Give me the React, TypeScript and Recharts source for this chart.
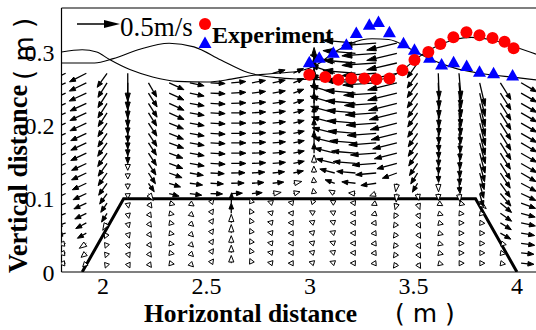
import React from 'react';
import { ComposedChart, XAxis, YAxis, Line, Scatter } from 'recharts';

const W = 536;
const H = 330;
const X_DOMAIN: [number, number] = [1.8, 4.092];
const Y_DOMAIN: [number, number] = [0, 0.36];
const X_LABEL_TICKS = [2, 2.5, 3, 3.5, 4];
const X_MINOR_TICKS = [2, 2.25, 2.5, 2.75, 3, 3.25, 3.5, 3.75, 4];
const Y_LABEL_TICKS = [0, 0.1, 0.2, 0.3];

// submerged trapezoidal breakwater outline
const BREAKWATER_X = [1.9, 2.1, 3.8, 4.0];
const BREAKWATER_Y = [0, 0.1, 0.1, 0];

// simulated free surface, instant A (blue)
const SURF_A_X = [1.8, 1.9, 1.97, 2.03, 2.13, 2.24, 2.36, 2.5, 2.62, 2.72, 2.84, 2.95, 3.03, 3.12, 3.2, 3.3, 3.38, 3.5, 3.6, 3.7, 3.82, 4.0, 4.092];
const SURF_A_Y = [0.3, 0.303, 0.3, 0.29, 0.276, 0.266, 0.26, 0.259, 0.263, 0.268, 0.271, 0.274, 0.282, 0.3, 0.312, 0.318, 0.317, 0.302, 0.288, 0.278, 0.271, 0.265, 0.262];
// simulated free surface, instant B (red)
const SURF_B_X = [1.8, 1.96, 2.05, 2.17, 2.32, 2.44, 2.57, 2.7, 2.84, 2.95, 3.1, 3.3, 3.38, 3.45, 3.52, 3.6, 3.7, 3.78, 3.87, 4.0, 4.092];
const SURF_B_Y = [0.285, 0.285, 0.291, 0.303, 0.312, 0.307, 0.289, 0.272, 0.265, 0.263, 0.262, 0.262, 0.265, 0.276, 0.292, 0.306, 0.317, 0.32, 0.317, 0.306, 0.297];

// experiment
const EXP_RED_X = [2.997, 3.074, 3.137, 3.2, 3.263, 3.321, 3.384, 3.447, 3.505, 3.572, 3.63, 3.693, 3.756, 3.819, 3.882, 3.94, 3.984];
const EXP_RED_Y = [0.269, 0.266, 0.262, 0.264, 0.264, 0.263, 0.264, 0.275, 0.289, 0.3, 0.311, 0.32, 0.327, 0.323, 0.319, 0.314, 0.305];
const EXP_BLUE_X = [2.997, 3.045, 3.113, 3.176, 3.224, 3.287, 3.331, 3.384, 3.452, 3.505, 3.578, 3.636, 3.694, 3.757, 3.819, 3.887, 3.979];
const EXP_BLUE_Y = [0.286, 0.292, 0.299, 0.31, 0.326, 0.337, 0.341, 0.327, 0.312, 0.303, 0.292, 0.283, 0.286, 0.281, 0.273, 0.271, 0.268];

// velocity field grid
const COL_X = [1.82, 1.92, 2.02, 2.12, 2.22, 2.32, 2.42, 2.52, 2.62, 2.72, 2.82, 2.92, 3.02, 3.12, 3.22, 3.32, 3.42, 3.52, 3.62, 3.72, 3.82, 3.92, 4.02];
const ROW_Y = [0.012, 0.026, 0.039, 0.053, 0.067, 0.08, 0.094, 0.107, 0.121, 0.135, 0.148, 0.162, 0.176, 0.189, 0.203, 0.217, 0.23, 0.244, 0.258, 0.271, 0.285, 0.298, 0.312];

// direction (deg, counter-clockwise from +x) per column, bottom row first
const ANGLE_DEG: number[][] = [
  [185, 188, 190, 195, 200, 202, 204, 205, 205, 205, 205, 205, 205, 205, 205, 205, 205, 205, 205, 205],
  [225, 220, 215, 210, 208, 206, 205, 205, 205, 205, 205, 205, 205, 205, 205, 205, 205, 205, 206, 207],
  [250, 250, 248, 245, 240, 238, 236, 235, 235, 235, 235, 235, 235, 236, 236, 237, 238, 238, 238, 235],
  [295, 292, 290, 288, 285, 282, 280, 272, 271, 271, 270, 270, 270, 270, 270, 270, 270, 270, 270, 270],
  [305, 305, 305, 305, 305, 305, 305, 305, 304, 303, 303, 303, 303, 303, 303, 302, 302, 302, 300],
  [350, 350, 350, 350, 350, 348, 345, 345, 342, 340, 340, 340, 340, 338, 338, 336, 335, 335, 335],
  [315, 315, 315, 315, 318, 320, 325, 352, 352, 350, 350, 350, 350, 350, 350, 350, 350, 348, 348],
  [55, 55, 55, 55, 55, 55, 50, 358, 357, 357, 357, 357, 357, 357, 357, 357, 357, 357, 357],
  [90, 90, 90, 90, 90, 90, 88, 2, 1, 1, 0, 0, 0, 0, 0, 0, 2, 3, 5],
  [115, 115, 115, 115, 115, 115, 110, 5, 4, 4, 3, 3, 3, 3, 3, 4, 5, 7, 10],
  [170, 170, 170, 170, 168, 165, 160, 8, 6, 6, 5, 5, 5, 5, 6, 7, 8, 10, 12, 15],
  [180, 180, 180, 180, 178, 175, 170, 15, 12, 12, 12, 12, 12, 12, 14, 15, 18, 20, 22, 25],
  [165, 165, 165, 165, 160, 150, 130, 100, 95, 92, 90, 90, 90, 90, 90, 90, 90, 90, 90, 90],
  [160, 160, 160, 160, 158, 155, 150, 150, 160, 165, 166, 166, 166, 166, 165, 165, 164, 163, 162, 162, 162],
  [178, 178, 178, 178, 178, 178, 175, 175, 174, 175, 175, 175, 175, 175, 175, 175, 175, 175, 175, 175, 175, 175, 175],
  [185, 185, 185, 185, 185, 200, 205, 200, 188, 185, 184, 184, 184, 184, 184, 184, 184, 184, 184, 184, 184, 184, 184],
  [235, 235, 235, 235, 235, 240, 255, 265, 262, 200, 195, 194, 194, 194, 194, 194, 194, 194, 194, 193, 193, 193, 193],
  [300, 300, 300, 300, 300, 295, 290, 280, 240, 238, 236, 235, 235, 235, 235, 235, 235, 235, 235, 235, 235],
  [345, 345, 345, 345, 345, 340, 330, 272, 272, 272, 272, 272, 272, 272, 272, 272, 272, 272, 272, 272],
  [0, 0, 0, 0, 0, 355, 345, 278, 276, 275, 275, 275, 275, 275, 275, 275, 275, 275, 275, 275],
  [0, 0, 0, 0, 355, 350, 320, 285, 285, 285, 285, 285, 285, 284, 284, 283, 283, 283, 283],
  [350, 350, 348, 330, 328, 325, 320, 310, 305, 303, 302, 302, 302, 302, 302, 302, 302, 302, 302],
  [355, 354, 352, 350, 348, 345, 340, 335, 332, 330, 330, 330, 330, 330, 330, 330, 330, 330, 330],
];

// speed (m/s) per column, bottom row first
const SPEED: number[][] = [
  [0.08, 0.09, 0.1, 0.11, 0.12, 0.13, 0.14, 0.15, 0.16, 0.17, 0.17, 0.18, 0.18, 0.18, 0.19, 0.19, 0.19, 0.2, 0.2, 0.2],
  [0.06, 0.08, 0.1, 0.12, 0.14, 0.15, 0.16, 0.17, 0.18, 0.19, 0.19, 0.2, 0.2, 0.2, 0.21, 0.21, 0.21, 0.22, 0.22, 0.22],
  [0.06, 0.06, 0.06, 0.07, 0.1, 0.12, 0.13, 0.15, 0.17, 0.18, 0.18, 0.19, 0.19, 0.19, 0.19, 0.19, 0.2, 0.2, 0.2, 0.2],
  [0.06, 0.06, 0.06, 0.06, 0.06, 0.06, 0.06, 0.06, 0.07, 0.07, 0.08, 0.12, 0.15, 0.18, 0.22, 0.25, 0.28, 0.3, 0.32, 0.33],
  [0.06, 0.06, 0.06, 0.06, 0.06, 0.06, 0.07, 0.1, 0.12, 0.15, 0.16, 0.17, 0.17, 0.18, 0.18, 0.18, 0.19, 0.19, 0.19],
  [0.06, 0.06, 0.06, 0.06, 0.06, 0.06, 0.07, 0.12, 0.14, 0.16, 0.17, 0.17, 0.18, 0.18, 0.18, 0.19, 0.19, 0.19, 0.19],
  [0.06, 0.06, 0.06, 0.06, 0.06, 0.06, 0.06, 0.14, 0.15, 0.16, 0.17, 0.17, 0.17, 0.17, 0.17, 0.17, 0.17, 0.17, 0.17],
  [0.06, 0.06, 0.06, 0.06, 0.06, 0.06, 0.06, 0.14, 0.15, 0.16, 0.17, 0.17, 0.17, 0.17, 0.17, 0.17, 0.17, 0.17, 0.17],
  [0.09, 0.09, 0.09, 0.1, 0.1, 0.12, 0.12, 0.13, 0.15, 0.16, 0.17, 0.17, 0.17, 0.17, 0.17, 0.17, 0.17, 0.17, 0.17],
  [0.06, 0.06, 0.06, 0.06, 0.06, 0.06, 0.06, 0.12, 0.14, 0.15, 0.16, 0.16, 0.16, 0.16, 0.16, 0.16, 0.16, 0.16, 0.16],
  [0.06, 0.06, 0.06, 0.06, 0.06, 0.06, 0.06, 0.1, 0.13, 0.14, 0.15, 0.15, 0.15, 0.15, 0.15, 0.15, 0.15, 0.15, 0.15, 0.15],
  [0.06, 0.06, 0.06, 0.06, 0.06, 0.06, 0.06, 0.08, 0.1, 0.12, 0.13, 0.13, 0.13, 0.13, 0.13, 0.13, 0.13, 0.13, 0.13, 0.13],
  [0.06, 0.06, 0.06, 0.06, 0.06, 0.06, 0.06, 0.06, 0.07, 0.08, 0.1, 0.12, 0.14, 0.17, 0.2, 0.24, 0.26, 0.28, 0.3, 0.3],
  [0.06, 0.06, 0.06, 0.06, 0.06, 0.06, 0.06, 0.08, 0.12, 0.18, 0.22, 0.24, 0.26, 0.27, 0.28, 0.29, 0.3, 0.3, 0.3, 0.3, 0.3],
  [0.06, 0.06, 0.06, 0.06, 0.06, 0.06, 0.06, 0.08, 0.16, 0.22, 0.26, 0.28, 0.3, 0.32, 0.33, 0.34, 0.35, 0.36, 0.37, 0.38, 0.38, 0.38, 0.38],
  [0.06, 0.06, 0.06, 0.06, 0.06, 0.06, 0.06, 0.08, 0.18, 0.24, 0.28, 0.3, 0.32, 0.34, 0.35, 0.36, 0.37, 0.38, 0.39, 0.4, 0.4, 0.4, 0.4],
  [0.07, 0.07, 0.07, 0.07, 0.07, 0.07, 0.08, 0.1, 0.1, 0.18, 0.24, 0.27, 0.29, 0.31, 0.32, 0.33, 0.34, 0.35, 0.35, 0.36, 0.36, 0.36, 0.36],
  [0.07, 0.07, 0.07, 0.07, 0.07, 0.07, 0.08, 0.08, 0.12, 0.15, 0.17, 0.18, 0.19, 0.19, 0.2, 0.2, 0.2, 0.21, 0.21, 0.21, 0.21],
  [0.06, 0.06, 0.06, 0.06, 0.06, 0.06, 0.06, 0.08, 0.1, 0.11, 0.12, 0.15, 0.18, 0.21, 0.24, 0.26, 0.28, 0.29, 0.3, 0.3],
  [0.06, 0.06, 0.06, 0.06, 0.06, 0.06, 0.07, 0.1, 0.12, 0.14, 0.16, 0.18, 0.2, 0.22, 0.24, 0.26, 0.27, 0.28, 0.29, 0.3],
  [0.06, 0.06, 0.06, 0.06, 0.06, 0.06, 0.1, 0.16, 0.18, 0.2, 0.22, 0.24, 0.25, 0.26, 0.27, 0.28, 0.28, 0.28, 0.28],
  [0.06, 0.06, 0.07, 0.14, 0.15, 0.16, 0.17, 0.19, 0.2, 0.21, 0.22, 0.22, 0.23, 0.23, 0.23, 0.23, 0.23, 0.23, 0.23],
  [0.15, 0.15, 0.16, 0.16, 0.17, 0.17, 0.18, 0.19, 0.2, 0.2, 0.21, 0.21, 0.21, 0.21, 0.21, 0.21, 0.21, 0.21, 0.21],
];

const PX_PER_MS = 86; // vector length scale: 0.5 m/s -> 43 px

const zip = (xs: number[], ys: number[]) => xs.map((x, i) => ({ x, y: ys[i] }));
const breakwater = zip(BREAKWATER_X, BREAKWATER_Y);
const surfA = zip(SURF_A_X, SURF_A_Y);
const surfB = zip(SURF_B_X, SURF_B_Y);
const expRed = zip(EXP_RED_X, EXP_RED_Y);
const expBlue = zip(EXP_BLUE_X, EXP_BLUE_Y);
const field = COL_X.flatMap((x, k) =>
  ANGLE_DEG[k].map((a, j) => ({ x, y: ROW_Y[j], a, s: SPEED[k][j] }))
);

const VectorShape = (props: any) => {
  const { cx, cy, payload } = props;
  if (cx == null || cy == null || !payload) return <g />;
  const L = payload.s * PX_PER_MS;
  const r = (payload.a * Math.PI) / 180;
  const ux = Math.cos(r);
  const uy = -Math.sin(r);
  const tx = cx + ux * L;
  const ty = cy + uy * L;
  const small = L < 9;
  const hl = small ? Math.max(0.85 * L, 5) : Math.min(Math.max(0.3 * L, 6), 10);
  const hw = small ? 2.6 : Math.max(0.3 * hl, 2.3);
  const bx = tx - ux * hl;
  const by = ty - uy * hl;
  const nx = -uy;
  const ny = ux;
  const pts = `${tx},${ty} ${bx + nx * hw},${by + ny * hw} ${bx - nx * hw},${by - ny * hw}`;
  return (
    <g>
      <line x1={cx} y1={cy} x2={bx} y2={by} stroke="#000" strokeWidth={small ? 1 : 1.3} />
      <polygon
        points={pts}
        fill={small ? '#fff' : '#000'}
        stroke="#000"
        strokeWidth={1}
        strokeLinejoin="miter"
      />
    </g>
  );
};

const RedDot = (props: any) => {
  const { cx, cy } = props;
  if (cx == null) return <g />;
  return <circle cx={cx} cy={cy} r={6} fill="#ff0000" />;
};

const BlueTri = (props: any) => {
  const { cx, cy } = props;
  if (cx == null) return <g />;
  return <polygon points={`${cx},${cy - 6.5} ${cx + 6.5},${cy + 5} ${cx - 6.5},${cy + 5}`} fill="#0000ff" />;
};

const SERIF = 'Liberation Serif, Times New Roman, serif';
const SANS = 'DejaVu Sans, sans-serif';

export default function App() {
  return (
    <div style={{ position: 'absolute', left: 0, top: 0, width: W, height: H, background: '#fff' }}>
      <ComposedChart width={W} height={H} margin={{ top: 8, right: 0, left: 0, bottom: 28 }}>
        <XAxis
          xAxisId="b"
          dataKey="x"
          type="number"
          domain={X_DOMAIN}
          allowDataOverflow
          ticks={X_LABEL_TICKS}
          tickFormatter={(v: number) => String(v)}
          tickLine={false}
          tickSize={0}
          tickMargin={5}
          axisLine={{ stroke: '#000', strokeWidth: 1.2 }}
          tick={{ fontSize: 24, fontFamily: SERIF, fill: '#000' }}
          height={30}
        />
        <XAxis
          xAxisId="bm"
          dataKey="x"
          type="number"
          orientation="bottom"
          mirror
          domain={X_DOMAIN}
          allowDataOverflow
          ticks={X_MINOR_TICKS}
          tick={false}
          tickLine={{ stroke: '#000', strokeWidth: 1 }}
          tickSize={7}
          axisLine={false}
        />
        <XAxis
          xAxisId="t"
          dataKey="x"
          type="number"
          orientation="top"
          mirror
          domain={X_DOMAIN}
          allowDataOverflow
          ticks={X_MINOR_TICKS}
          tick={false}
          tickLine={{ stroke: '#000', strokeWidth: 1 }}
          tickSize={7}
          axisLine={{ stroke: '#000', strokeWidth: 1.2 }}
        />
        <YAxis
          yAxisId="l"
          dataKey="y"
          type="number"
          domain={Y_DOMAIN}
          allowDataOverflow
          ticks={Y_LABEL_TICKS}
          tickFormatter={(v: number) => String(v)}
          tickLine={false}
          tickSize={0}
          tickMargin={7}
          axisLine={{ stroke: '#000', strokeWidth: 1.2 }}
          tick={{ fontSize: 24, fontFamily: SERIF, fill: '#000' }}
          width={61.5}
        />
        <YAxis
          yAxisId="lm"
          dataKey="y"
          type="number"
          orientation="left"
          mirror
          domain={Y_DOMAIN}
          allowDataOverflow
          ticks={Y_LABEL_TICKS}
          tick={false}
          tickLine={{ stroke: '#000', strokeWidth: 1 }}
          tickSize={7}
          axisLine={false}
        />
        <Scatter
          xAxisId="b"
          yAxisId="l"
          data={field}
          shape={VectorShape}
          isAnimationActive={false}
        />
        <Line
          xAxisId="b"
          yAxisId="l"
          data={surfA}
          dataKey="y"
          type="monotone"
          stroke="#000"
          strokeWidth={1.1}
          dot={false}
          isAnimationActive={false}
        />
        <Line
          xAxisId="b"
          yAxisId="l"
          data={surfB}
          dataKey="y"
          type="monotone"
          stroke="#000"
          strokeWidth={1.1}
          dot={false}
          isAnimationActive={false}
        />
        <Line
          xAxisId="b"
          yAxisId="l"
          data={breakwater}
          dataKey="y"
          type="linear"
          stroke="#000"
          strokeWidth={3}
          dot={false}
          isAnimationActive={false}
        />
        <Scatter xAxisId="b" yAxisId="l" data={expBlue} shape={BlueTri} isAnimationActive={false} />
        <Scatter xAxisId="b" yAxisId="l" data={expRed} shape={RedDot} isAnimationActive={false} />
      </ComposedChart>
      <svg
        width={W}
        height={H}
        style={{ position: 'absolute', left: 0, top: 0, pointerEvents: 'none' }}
      >
        {/* reference vector */}
        <line x1={77} y1={24} x2={106} y2={24} stroke="#000" strokeWidth={1.5} />
        <polygon points="104,20 120,24 104,28" fill="#000" />
        <text x={120} y={36} fontFamily={SERIF} fontSize={27} fill="#000">0.5m/s</text>
        {/* legend */}
        <circle cx={205} cy={24} r={6} fill="#ff0000" />
        <polygon points="205,36.5 211.5,48 198.5,48" fill="#0000ff" />
        <text x={212} y={43} fontFamily={SERIF} fontSize={24} fontWeight="bold" fill="#000">Experiment</text>
        {/* axis titles */}
        <text x={144} y={322} fontFamily={SERIF} fontSize={25.5} fontWeight="bold" fill="#000">Horizontal distance</text>
        <text x={395} y={322} fontFamily={SANS} fontSize={25} fill="#000">( m )</text>
        <g transform="rotate(-90)">
          <text x={-273} y={27} fontFamily={SERIF} fontSize={26.5} fontWeight="bold" fill="#000">Vertical distance</text>
          <text x={-80} y={33} fontFamily={SANS} fontSize={26} fill="#000">( m )</text>
        </g>
      </svg>
    </div>
  );
}
